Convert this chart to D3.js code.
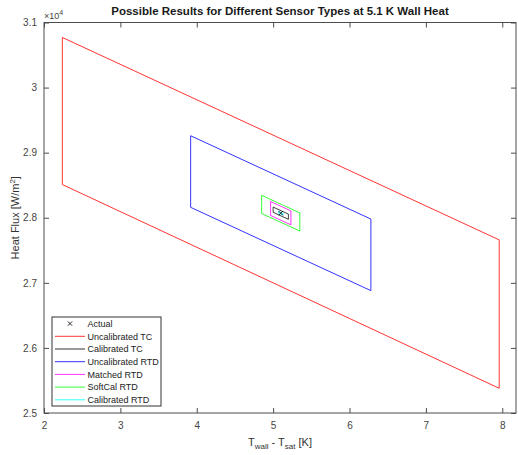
<!DOCTYPE html>
<html>
<head>
<meta charset="utf-8">
<script src="https://cdn.jsdelivr.net/npm/d3@7"></script>
<style>
  html, body { margin: 0; padding: 0; background: #fff; }
  svg { display: block; font-family: "Liberation Sans", Arial, Helvetica, sans-serif; }
</style>
</head>
<body>
<svg id="chart" width="518" height="455"></svg>
<script>
// Measured operating point
const actualT = [5.1];
const actualQ = [28070];

// Uncertainty regions per sensor type: wall superheat bounds [K] and
// heat flux [W/m^2] at the four corners (top-left, top-right, bottom-right, bottom-left)
const sensorNames  = ["Uncalibrated TC", "Calibrated TC", "Uncalibrated RTD", "Matched RTD", "SoftCal RTD", "Calibrated RTD"];
const sensorColors = ["#ff0000", "#000000", "#0000ff", "#ff00ff", "#00ff00", "#00ffff"];
const tLow      = [2.24, 5.00, 3.92, 4.967, 4.85, 5.07];
const tHigh     = [7.96, 5.20, 6.28, 5.233, 5.35, 5.13];
const qTopLeft  = [30770, 28164, 29260, 28249, 28345, 28098];
const qTopRight = [27660, 28056, 27980, 28105, 28075, 28066];
const qBotRight = [25380, 27976, 26880, 27891, 27795, 28042];
const qBotLeft  = [28510, 28084, 28160, 28035, 28065, 28074];

// Axis ticks
const xTicks = [2, 3, 4, 5, 6, 7, 8];
const yTicks = [25000, 26000, 27000, 28000, 29000, 30000, 31000];
const yTickLabels = ["2.5", "2.6", "2.7", "2.8", "2.9", "3", "3.1"];

const svg = d3.select("#chart");
const plotL = 44, plotR = 516, plotT = 22.5, plotB = 413;

const x = d3.scaleLinear().domain([2, 8.18]).range([plotL, plotR]);
const y = d3.scaleLinear().domain([25000, 31000]).range([plotB, plotT]);

const axisColor = "#4d4d4d";
const tickLen = 5;

// Title
svg.append("text")
  .attr("x", (plotL + plotR) / 2).attr("y", 15)
  .attr("text-anchor", "middle")
  .attr("font-size", "11.5px").attr("font-weight", "bold")
  .attr("fill", "#1a1a1a")
  .text("Possible Results for Different Sensor Types at 5.1 K Wall Heat");

// Quadrilateral regions
const line = d3.line().x(d => x(d[0])).y(d => y(d[1]));
const plot = svg.append("g");
sensorNames.forEach((name, i) => {
  const pts = [
    [tLow[i], qTopLeft[i]],
    [tHigh[i], qTopRight[i]],
    [tHigh[i], qBotRight[i]],
    [tLow[i], qBotLeft[i]],
    [tLow[i], qTopLeft[i]]
  ];
  plot.append("path")
    .attr("d", line(pts))
    .attr("fill", "none")
    .attr("stroke", sensorColors[i])
    .attr("stroke-width", 1)
    .attr("stroke-opacity", i === 1 ? 0.75 : 0.8)
    .attr("stroke-linejoin", "miter");
});

// Actual point marker
function cross(g, cx, cy, r) {
  g.append("path")
    .attr("d", `M${cx - r},${cy - r}L${cx + r},${cy + r}M${cx - r},${cy + r}L${cx + r},${cy - r}`)
    .attr("stroke", "#000").attr("stroke-width", 0.8).attr("fill", "none");
}
actualT.forEach((t, i) => cross(plot, x(t), y(actualQ[i]), 2.2));

// Axes box with inward ticks on all four sides
const axes = svg.append("g");
axes.append("rect")
  .attr("x", plotL).attr("y", plotT)
  .attr("width", plotR - plotL).attr("height", plotB - plotT)
  .attr("fill", "none").attr("stroke", axisColor).attr("stroke-width", 1);

const xAxisB = d3.axisBottom(x).tickValues(xTicks).tickSizeInner(-tickLen).tickSizeOuter(0).tickPadding(9).tickFormat(d3.format("d"));
const xAxisT = d3.axisTop(x).tickValues(xTicks).tickSizeInner(-tickLen).tickSizeOuter(0).tickFormat("");
const yAxisL = d3.axisLeft(y).tickValues(yTicks).tickSizeInner(-tickLen).tickSizeOuter(0).tickPadding(7)
  .tickFormat((d, i) => yTickLabels[i]);
const yAxisR = d3.axisRight(y).tickValues(yTicks).tickSizeInner(-tickLen).tickSizeOuter(0).tickFormat("");

function styleAxis(g) {
  g.select(".domain").remove();
  g.selectAll("line").attr("stroke", axisColor);
  g.selectAll("text").attr("fill", "#444").attr("font-size", "10px")
    .attr("font-family", "'Liberation Sans', Arial, sans-serif");
}
axes.append("g").attr("transform", `translate(0,${plotB})`).call(xAxisB).call(styleAxis);
axes.append("g").attr("transform", `translate(0,${plotT})`).call(xAxisT).call(styleAxis);
axes.append("g").attr("transform", `translate(${plotL},0)`).call(yAxisL).call(styleAxis);
axes.append("g").attr("transform", `translate(${plotR},0)`).call(yAxisR).call(styleAxis);

// Exponent label for the y axis
const expo = svg.append("text")
  .attr("x", plotL).attr("y", 19)
  .attr("font-size", "9px").attr("fill", "#444");
expo.append("tspan").text("\u00d710");
expo.append("tspan").attr("dy", -4).attr("font-size", "7px").text("4");

// Axis labels
const xl = svg.append("text")
  .attr("x", (plotL + plotR) / 2).attr("y", 446)
  .attr("text-anchor", "middle")
  .attr("font-size", "11px").attr("fill", "#333");
xl.append("tspan").text("T");
xl.append("tspan").attr("dy", 3).attr("font-size", "8px").text("wall");
xl.append("tspan").attr("dy", -3).text(" - T");
xl.append("tspan").attr("dy", 3).attr("font-size", "8px").text("sat");
xl.append("tspan").attr("dy", -3).text(" [K]");

const yl = svg.append("text")
  .attr("transform", `translate(19,${(plotT + plotB) / 2}) rotate(-90)`)
  .attr("text-anchor", "middle")
  .attr("font-size", "11px").attr("fill", "#333");
yl.append("tspan").text("Heat Flux [W/m");
yl.append("tspan").attr("dy", -4).attr("font-size", "8px").text("2");
yl.append("tspan").attr("dy", 4).text("]");

// Legend
const legX = 52, legY = 317, legW = 109, legH = 89, rowH = 12.7;
const leg = svg.append("g");
leg.append("rect")
  .attr("x", legX).attr("y", legY).attr("width", legW).attr("height", legH)
  .attr("fill", "#fff").attr("stroke", "#333").attr("stroke-width", 1);

const legendLabels = ["Actual"].concat(sensorNames);
legendLabels.forEach((lab, i) => {
  const cy = legY + 6.6 + i * rowH;
  if (i === 0) {
    cross(leg, 70, cy, 2.2);
  } else {
    leg.append("line")
      .attr("x1", 55).attr("x2", 85).attr("y1", cy).attr("y2", cy)
      .attr("stroke", sensorColors[i - 1]).attr("stroke-width", 1)
      .attr("stroke-opacity", 0.8);
  }
  leg.append("text")
    .attr("x", 87.5).attr("y", cy + 3.3)
    .attr("font-size", "9px").attr("fill", "#222")
    .text(lab);
});
</script>
</body>
</html>
